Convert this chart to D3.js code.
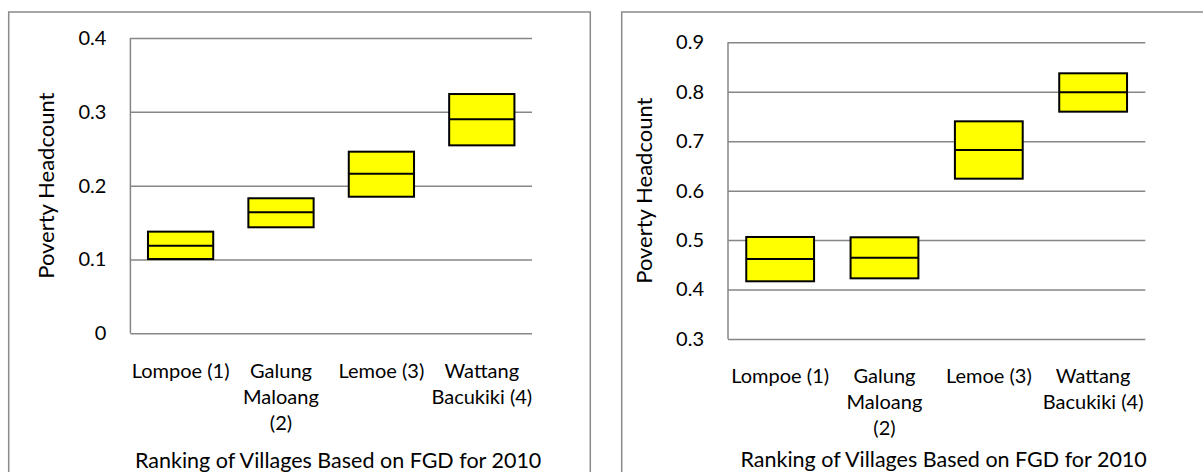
<!DOCTYPE html>
<html>
<head>
<meta charset="utf-8">
<script src="https://cdn.jsdelivr.net/npm/d3@7"></script>
<style>
  body { margin: 0; background: #fff; }
  text { font-family: Lato, "Open Sans", sans-serif; fill: #000; }
</style>
</head>
<body>
<div id="chart"></div>
<script>
// Villages (x categories), split into the lines shown under each box
let villages = ["Lompoe (1)", "Galung Maloang (2)", "Lemoe (3)", "Wattang Bacukiki (4)"];
let villageLines = [["Lompoe (1)"], ["Galung", "Maloang", "(2)"], ["Lemoe (3)"], ["Wattang", "Bacukiki (4)"]];

// Left chart: low / middle / high poverty headcount
let lowA = [0.1006, 0.1436, 0.185, 0.2546];
let midA = [0.1187, 0.1639, 0.2162, 0.2899];
let highA = [0.1377, 0.1829, 0.246, 0.3241];
let ticksA = [0, 0.1, 0.2, 0.3, 0.4];

// Right chart
let lowB = [0.4167, 0.4227, 0.6242, 0.7597];
let midB = [0.4618, 0.4645, 0.6822, 0.7989];
let highB = [0.5063, 0.5057, 0.7402, 0.8373];
let ticksB = [0.3, 0.4, 0.5, 0.6, 0.7, 0.8, 0.9];

let yTitle = "Poverty Headcount";
let xTitle = "Ranking of Villages Based on FGD for 2010";

let svg = d3.select("#chart")
  .append("svg")
  .attr("width", 1203)
  .attr("height", 472);

// panel frames
svg.append("rect")
  .attr("x", 8.7).attr("y", 12).attr("width", 581.6).attr("height", 480)
  .attr("fill", "none").attr("stroke", "#8a8a8a").attr("stroke-width", 1.5);
svg.append("rect")
  .attr("x", 621.7).attr("y", 12).attr("width", 600).attr("height", 480)
  .attr("fill", "none").attr("stroke", "#8a8a8a").attr("stroke-width", 1.5);

function drawChart(dim, low, mid, high, ticks) {
  let width = dim.right - dim.left;
  let height = dim.bottom - dim.top;

  let g = svg.append("g")
    .attr("transform", "translate(" + dim.left + "," + dim.top + ")");

  let x = d3.scaleBand()
    .domain(villages)
    .range([0, width])
    .paddingInner(0.35)
    .paddingOuter(0.175);

  let y = d3.scaleLinear()
    .domain([ticks[0], ticks[ticks.length - 1]])
    .range([height, 0]);

  // gridlines + tick labels
  let yAxis = g.append("g")
    .call(d3.axisLeft(y).tickValues(ticks).tickSize(-width).tickPadding(24)
      .tickFormat(d => d === 0 ? "0" : d3.format(".1f")(d)));
  yAxis.select(".domain").remove();
  yAxis.selectAll("line").attr("stroke", "#868686").attr("stroke-width", 1.5);
  yAxis.selectAll("text")
    .attr("font-size", "20px")
    .attr("font-family", "Lato, sans-serif")
    .attr("fill", "#000");

  // vertical axis line
  g.append("line")
    .attr("x1", 0).attr("x2", 0)
    .attr("y1", 0).attr("y2", height)
    .attr("stroke", "#868686").attr("stroke-width", 1.5);

  // boxes
  let idx = d3.range(villages.length);
  g.selectAll(".box")
    .data(idx)
    .enter()
    .append("rect")
    .attr("class", "box")
    .attr("x", i => x(villages[i]))
    .attr("y", i => y(high[i]))
    .attr("width", x.bandwidth())
    .attr("height", i => y(low[i]) - y(high[i]))
    .attr("fill", "#ffff00")
    .attr("stroke", "#000")
    .attr("stroke-width", 2);

  g.selectAll(".mid")
    .data(idx)
    .enter()
    .append("line")
    .attr("class", "mid")
    .attr("x1", i => x(villages[i]))
    .attr("x2", i => x(villages[i]) + x.bandwidth())
    .attr("y1", i => y(mid[i]))
    .attr("y2", i => y(mid[i]))
    .attr("stroke", "#000")
    .attr("stroke-width", 2);

  // category labels
  idx.forEach(i => {
    let t = g.append("text")
      .attr("text-anchor", "middle")
      .attr("font-size", "20px")
      .attr("y", height + 37.5);
    villageLines[i].forEach((line, k) => {
      t.append("tspan")
        .attr("x", x(villages[i]) + x.bandwidth() / 2)
        .attr("dy", k === 0 ? "0.35em" : "26px")
        .text(line);
    });
  });

  // y label
  g.append("text")
    .attr("text-anchor", "middle")
    .attr("font-size", "22px")
    .attr("transform", "translate(-84," + (height / 2) + ") rotate(-90)")
    .attr("dy", "0.35em")
    .text(yTitle);

  // x label
  g.append("text")
    .attr("text-anchor", "middle")
    .attr("font-size", "21.5px")
    .attr("x", width / 2 + 7)
    .attr("y", dim.titleY - dim.top)
    .attr("dy", "0.35em")
    .text(xTitle);
}

drawChart({left: 130.4, right: 532, top: 38, bottom: 333.3, titleY: 460}, lowA, midA, highA, ticksA);
drawChart({left: 728, right: 1145.3, top: 42.3, bottom: 339, titleY: 459.3}, lowB, midB, highB, ticksB);
</script>
</body>
</html>
